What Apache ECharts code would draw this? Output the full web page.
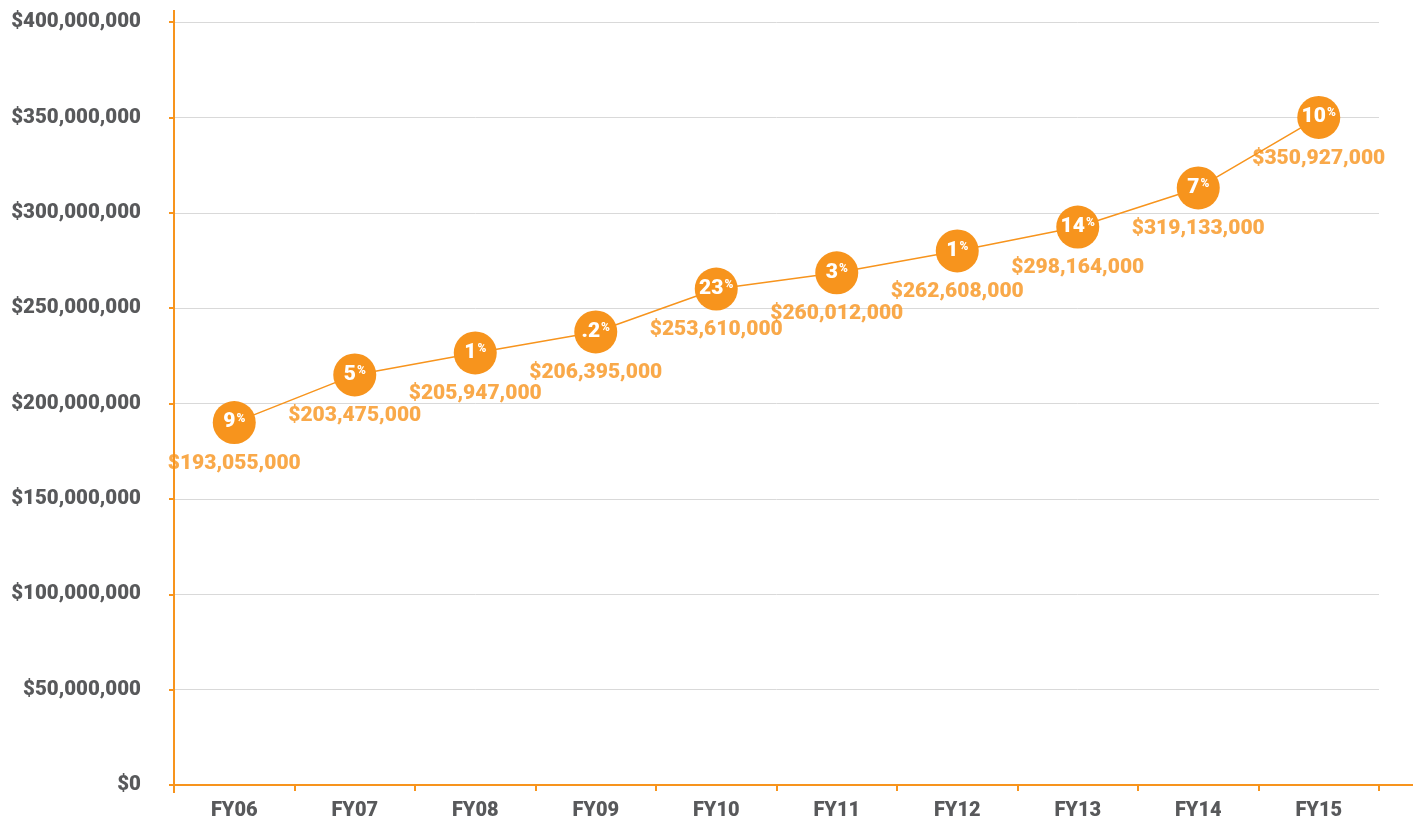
<!DOCTYPE html>
<html>
<head>
<meta charset="utf-8">
<script src="https://cdn.jsdelivr.net/npm/echarts@6/dist/echarts.min.js"></script>
<style>
html,body{margin:0;padding:0;background:#fff;}
#chart{width:1421px;height:825px;}
</style>
</head>
<body>
<div id="chart"></div>
<script>
const categories = ['FY06','FY07','FY08','FY09','FY10','FY11','FY12','FY13','FY14','FY15'];
// plotted positions of the circles
const plotValues = [190000000, 215000000, 226500000, 237500000, 260000000, 268500000, 280000000, 292500000, 313000000, 350000000];
// printed amount labels
const amountLabels = ['$193,055,000','$203,475,000','$205,947,000','$206,395,000','$253,610,000','$260,012,000','$262,608,000','$298,164,000','$319,133,000','$350,927,000'];
// growth percentages printed inside circles
const growthLabels = ['9','5','1','.2','23','3','1','14','7','10'];
const yMin = 0, yMax = 400000000, yStep = 50000000;

const ORANGE = '#F7941D';
const GRAY = '#58595B';
const FONT = 'Roboto';
const W8 = 900;

const gridLeft = 174, gridRight = 42, gridTop = 22, gridBottom = 40;
const W = 1421, H = 825;

const chart = echarts.init(document.getElementById('chart'));
chart.setOption({
  animation: false,
  backgroundColor: '#fff',
  grid: { left: gridLeft, right: gridRight, top: gridTop, bottom: gridBottom, containLabel: false },
  xAxis: {
    type: 'category',
    data: categories,
    boundaryGap: true,
    axisLine: { lineStyle: { color: ORANGE, width: 2 } },
    axisTick: { show: true, length: 6, lineStyle: { color: ORANGE, width: 2 } },
    axisLabel: { color: GRAY, fontFamily: FONT, fontWeight: W8, fontSize: 20, margin: 16 },
    splitLine: { show: false }
  },
  yAxis: {
    type: 'value',
    min: yMin, max: yMax, interval: yStep,
    axisLine: { show: true, lineStyle: { color: ORANGE, width: 2 } },
    axisTick: { show: true, length: 5, lineStyle: { color: ORANGE, width: 2 } },
    axisLabel: {
      color: GRAY, fontFamily: FONT, fontWeight: W8, fontSize: 20.5, margin: 33,
      formatter: v => '$' + v.toLocaleString('en-US')
    },
    splitLine: { show: true, lineStyle: { color: '#D9D9D9', width: 1 } }
  },
  series: [
    {
      type: 'scatter',
      data: plotValues,
      symbol: 'circle',
      symbolSize: 43,
      itemStyle: { color: 'rgba(0,0,0,0)' },
      silent: true,
      z: 1,
      label: {
        show: true,
        position: 'bottom',
        distance: 9,
        color: ORANGE,
        fontFamily: FONT,
        fontWeight: W8,
        fontSize: 21,
        formatter: p => amountLabels[p.dataIndex]
      }
    },
    {
      type: 'line',
      data: plotValues,
      symbol: 'circle',
      symbolSize: 43,
      showAllSymbol: true,
      z: 3,
      itemStyle: { color: ORANGE, borderWidth: 0 },
      lineStyle: { color: ORANGE, width: 1.5 },
      label: {
        show: true,
        position: 'inside',
        formatter: p => '{n|' + growthLabels[p.dataIndex] + '}{p|%}',
        rich: {
          n: { color: '#fff', fontFamily: FONT, fontWeight: W8, fontSize: 21, lineHeight: 20, verticalAlign: 'bottom' },
          p: { color: '#fff', fontFamily: FONT, fontWeight: W8, fontSize: 12, lineHeight: 20, verticalAlign: 'top', padding: [0, 0, 8, 1] }
        }
      }
    }
  ]
});

// extend the axis lines slightly beyond the plot area, as in the reference
const yAxisX = gridLeft, xAxisY = Math.round(chart.convertToPixel({ yAxisIndex: 0 }, 0));
chart.setOption({
  graphic: [
    { type: 'line', silent: true, z: 10,
      shape: { x1: yAxisX, y1: gridTop - 12, x2: yAxisX, y2: gridTop },
      style: { stroke: ORANGE, lineWidth: 2 } },
    { type: 'line', silent: true, z: 10,
      shape: { x1: yAxisX, y1: xAxisY, x2: yAxisX, y2: xAxisY + 8 },
      style: { stroke: ORANGE, lineWidth: 2 } },
    { type: 'line', silent: true, z: 10,
      shape: { x1: W - gridRight - 1, y1: xAxisY, x2: W - 8, y2: xAxisY },
      style: { stroke: ORANGE, lineWidth: 2 } }
  ]
});
</script>
</body>
</html>
